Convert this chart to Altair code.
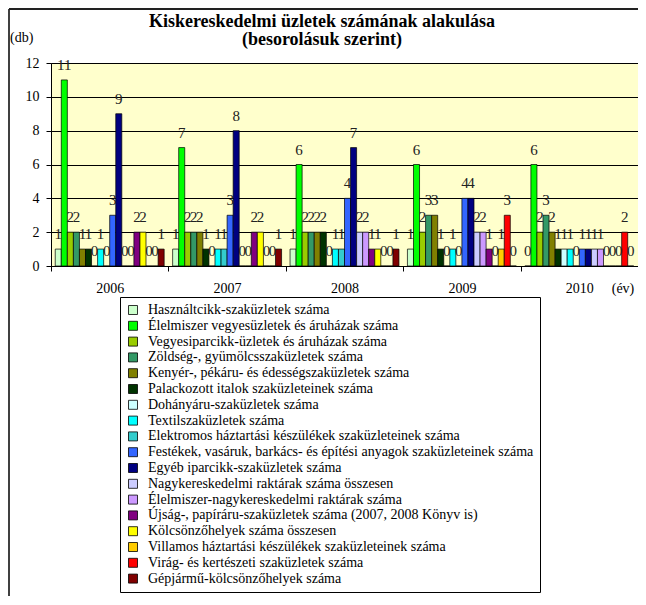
import altair as alt
import pandas as pd

years = ["2006", "2007", "2008", "2009", "2010"]
series = [
    "Használtcikk-szaküzletek száma",
    "Élelmiszer vegyesüzletek és áruházak száma",
    "Vegyesiparcikk-üzletek és áruházak száma",
    "Zöldség-, gyümölcsszaküzletek száma",
    "Kenyér-, pékáru- és édességszaküzletek száma",
    "Palackozott italok szaküzleteinek száma",
    "Dohányáru-szaküzletek száma",
    "Textilszaküzletek száma",
    "Elektromos háztartási készülékek szaküzleteinek száma",
    "Festékek, vasáruk, barkács- és építési anyagok szaküzleteinek száma",
    "Egyéb iparcikk-szaküzletek száma",
    "Nagykereskedelmi raktárak száma összesen",
    "Élelmiszer-nagykereskedelmi raktárak száma",
    "Újság-, papíráru-szaküzletek száma (2007, 2008 Könyv is)",
    "Kölcsönzőhelyek száma összesen",
    "Villamos háztartási készülékek szaküzleteinek száma",
    "Virág- és kertészeti szaküzletek száma",
    "Gépjármű-kölcsönzőhelyek száma",
]
colors = [
    "#CCFFCC", "#00FF00", "#99CC00", "#339966", "#808000", "#003300",
    "#CCFFFF", "#00FFFF", "#33CCCC", "#3366FF", "#000080", "#CCCCFF",
    "#CC99FF", "#800080", "#FFFF00", "#FFCC00", "#FF0000", "#800000",
]
v2006 = [1, 11, 2, 2, 1, 1, 0, 1, 0, 3, 9, 0, 0, 2, 2, 0, 0, 1]
v2007 = [1, 7, 2, 2, 2, 1, 0, 1, 1, 3, 8, 0, 0, 2, 2, 0, 0, 1]
v2008 = [1, 6, 2, 2, 2, 2, 0, 1, 1, 4, 7, 2, 2, 1, 1, 0, 0, 1]
v2009 = [1, 6, 2, 3, 3, 1, 0, 1, 0, 4, 4, 2, 2, 1, 0, 1, 3, 0]
v2010 = [0, 6, 2, 3, 2, 1, 1, 1, 0, 1, 1, 1, 1, 0, 0, 0, 2, 0]
y_ticks = [0, 2, 4, 6, 8, 10, 12]

title_lines = ["Kiskereskedelmi üzletek számának alakulása", "(besorolásuk szerint)"]
y_unit = "(db)"
x_unit = "(év)"

rows = []
for yr, vals in zip(years, [v2006, v2007, v2008, v2009, v2010]):
    for s, v in zip(series, vals):
        rows.append({"year": yr, "series": s, "value": v})
df = pd.DataFrame(rows)

FONT = "Liberation Serif, Times New Roman, serif"

x_enc = alt.X("year:N", sort=years, title=None,
              scale=alt.Scale(paddingInner=0, paddingOuter=0),
              axis=alt.Axis(labelAngle=0, tickBand="extent", domainColor="black",
                            tickColor="black", tickSize=5, labelFont=FONT,
                            labelFontSize=14, labelColor="black", labelPadding=10,
                            grid=False))
xo_enc = alt.XOffset("series:N", sort=series,
                     scale=alt.Scale(domain=series, paddingInner=0, paddingOuter=0.7))
y_enc = alt.Y("value:Q", title=None,
              scale=alt.Scale(domain=[0, 12], nice=False),
              axis=alt.Axis(values=y_ticks, grid=True, gridColor="black", gridWidth=1,
                            domainColor="black", tickColor="black", tickSize=5,
                            labelFont=FONT, labelFontSize=14, labelColor="black",
                            labelPadding=7))

base = alt.Chart(df)

bars = base.mark_bar(stroke="black", strokeWidth=0.7).encode(
    x=x_enc, xOffset=xo_enc, y=y_enc,
    color=alt.Color("series:N", sort=series,
                    scale=alt.Scale(domain=series, range=colors),
                    legend=alt.Legend(title=None, orient="none", legendX=69, legendY=234,
                                      direction="vertical", symbolType="square",
                                      symbolSize=81, symbolStrokeColor="black",
                                      symbolStrokeWidth=0.8, labelFont=FONT,
                                      labelFontSize=14, labelColor="black",
                                      labelLimit=600, strokeColor="black",
                                      fillColor="white", padding=6, rowPadding=1.8,
                                      labelOffset=8)),
)

labels = base.mark_text(font=FONT, fontSize=15, color="#222222", baseline="middle",
                        dy=-15).encode(
    x=x_enc, xOffset=xo_enc, y=y_enc, text="value:Q")

ann_title = alt.Chart(pd.DataFrame({"t": [title_lines[0]]})).mark_text(
    font=FONT, fontSize=18, fontWeight="bold", color="black", align="center",
    baseline="middle").encode(x=alt.value(271), y=alt.value(-41), text="t:N")
ann_title2 = alt.Chart(pd.DataFrame({"t": [title_lines[1]]})).mark_text(
    font=FONT, fontSize=18, fontWeight="bold", color="black", align="center",
    baseline="middle").encode(x=alt.value(271), y=alt.value(-23), text="t:N")
ann_db = alt.Chart(pd.DataFrame({"t": [y_unit]})).mark_text(
    font=FONT, fontSize=14, color="black", align="left",
    baseline="middle").encode(x=alt.value(-41), y=alt.value(-25), text="t:N")
ann_ev = alt.Chart(pd.DataFrame({"t": [x_unit]})).mark_text(
    font=FONT, fontSize=14, color="black", align="center",
    baseline="middle").encode(x=alt.value(572), y=alt.value(226), text="t:N")

frame_left = alt.Chart(pd.DataFrame({"a": [0]})).mark_rule(
    color="black", strokeWidth=1.5).encode(
    x=alt.value(-42), y=alt.value(-54), y2=alt.value(540))
frame_top = alt.Chart(pd.DataFrame({"a": [0]})).mark_rule(
    color="#222222", strokeWidth=2).encode(
    x=alt.value(-42), x2=alt.value(600), y=alt.value(-54))

chart = alt.layer(bars, labels, ann_title, ann_title2, ann_db, ann_ev,
                  frame_left, frame_top).properties(
    width=587, height=203,
    autosize=alt.AutoSizeParams(type="none"),
    padding={"left": 43, "top": 55, "right": 0, "bottom": 330},
).configure_view(fill="#FFFFCC", stroke="#808080", strokeWidth=1)

chart.save("out.html", embed_options={"renderer": "svg", "actions": False})
